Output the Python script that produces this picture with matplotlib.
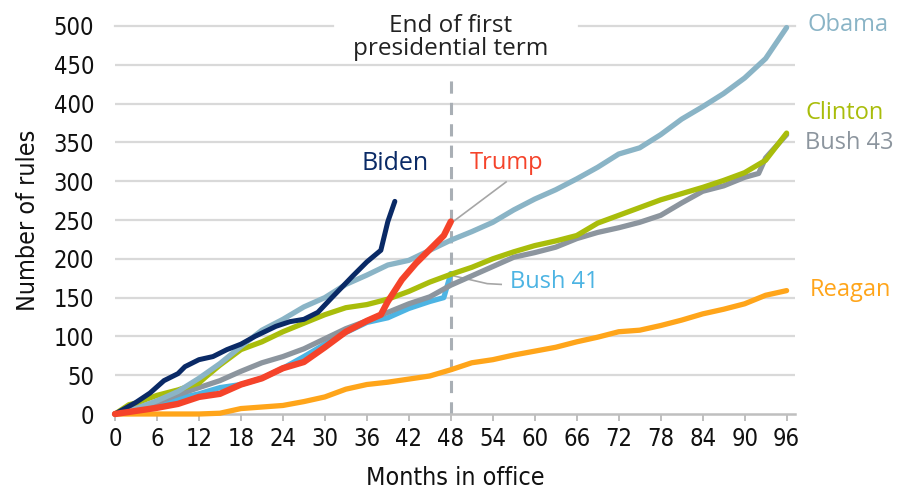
import matplotlib
matplotlib.use("Agg")
import matplotlib.pyplot as plt

# Cumulative rules by months in office
obama_m = [0, 3, 6, 9, 12, 15, 18, 21, 24, 27, 30, 33, 36, 39, 42, 45, 48, 51, 54, 57, 60,
           63, 66, 69, 72, 75, 78, 81, 84, 87, 90, 93, 96]
obama_v = [0, 7, 17, 29, 46, 65, 87, 108, 122, 138, 150, 167, 179, 192, 198, 211, 224, 235,
           247, 263, 277, 289, 303, 318, 335, 343, 360, 380, 396, 413, 433, 458, 498]

clinton_m = [0, 2, 3, 6, 9, 12, 13, 15, 18, 21, 24, 27, 30, 33, 36, 39, 42, 45, 48, 51, 54,
             57, 60, 63, 66, 69, 72, 75, 78, 81, 84, 87, 90, 93, 96]
clinton_v = [0, 12, 14, 24, 31, 40, 48, 63, 83, 93, 106, 117, 128, 137, 141, 148, 158, 170,
             180, 189, 200, 209, 217, 223, 230, 246, 256, 266, 276, 284, 292, 301, 311, 327, 362]

bush43_m = [0, 3, 6, 9, 12, 15, 18, 21, 24, 27, 30, 33, 36, 39, 42, 45, 48, 51, 54, 57, 60,
            63, 66, 69, 72, 75, 78, 81, 84, 87, 90, 92, 93, 94, 96]
bush43_v = [0, 8, 15, 25, 34, 43, 55, 66, 74, 84, 97, 110, 120, 131, 142, 151, 166, 178, 190,
            202, 208, 215, 226, 234, 240, 247, 256, 272, 287, 294, 305, 310, 330, 340, 360]

bush41_m = [0, 3, 6, 9, 12, 15, 18, 21, 24, 27, 30, 33, 36, 39, 42, 45, 47, 48]
bush41_v = [0, 6, 12, 20, 26, 34, 38, 46, 59, 74, 90, 105, 118, 124, 136, 145, 150, 181]

trump_m = [0, 3, 6, 9, 12, 15, 18, 21, 24, 27, 30, 33, 36, 38, 39, 41, 43, 45, 47, 48]
trump_v = [0, 4, 8, 13, 22, 26, 38, 46, 59, 67, 86, 106, 120, 128, 145, 173, 194, 212, 230, 248]

biden_m = [0, 3, 5, 7, 9, 10, 12, 14, 16, 18, 20, 23, 25, 27, 29, 31, 34, 36, 38, 39, 40]
biden_v = [0, 15, 27, 43, 52, 61, 70, 74, 83, 90, 100, 113, 119, 122, 131, 150, 178, 196,
           211, 248, 274]

reagan_m = [0, 3, 6, 9, 12, 15, 18, 21, 24, 27, 30, 33, 36, 39, 42, 45, 48, 51, 54, 57, 60,
            63, 66, 69, 72, 75, 78, 81, 84, 87, 90, 93, 96]
reagan_v = [0, 0, 0, 0, 0, 1, 7, 9, 11, 16, 22, 32, 38, 41, 45, 49, 57, 66, 70, 76, 81, 86,
            93, 99, 106, 108, 114, 121, 129, 135, 142, 153, 159]

x_ticks = list(range(0, 97, 6))
y_ticks = list(range(0, 501, 50))

TEXT_FONT = ["Open Sans", "DejaVu Sans"]
XMAX = 97.2

fig = plt.figure(figsize=(9.1, 4.93), dpi=100)
ax = fig.add_axes([115 / 910, 79 / 493, 680 / 910, 388 / 493])
ax.set_xlim(0, XMAX)
ax.set_ylim(0, 500)

for y in y_ticks[1:-1]:
    ax.axhline(y, color="#d9d9d9", lw=1.6, zorder=0)
# top gridline is broken around the annotation text
ax.axhline(500, xmin=0, xmax=31.1 / XMAX, color="#d9d9d9", lw=1.6, zorder=0, clip_on=False)
ax.axhline(500, xmin=66.3 / XMAX, xmax=1, color="#d9d9d9", lw=1.6, zorder=0, clip_on=False)

ax.axvline(48, ymin=0, ymax=430 / 500, color="#a9afb5", lw=2.2,
           dashes=(4, 3), zorder=1)

series = [
    (reagan_m, reagan_v, "#ffa51a", 3.8),
    (bush41_m, bush41_v, "#4db4e3", 3.8),
    (bush43_m, bush43_v, "#8c959e", 3.8),
    (clinton_m, clinton_v, "#a9bd0b", 3.8),
    (obama_m, obama_v, "#8ab4c6", 3.8),
    (biden_m, biden_v, "#0a2a66", 3.6),
    (trump_m, trump_v, "#f5432a", 4.6),
]
for m, v, c, lw in series:
    ax.plot(m, v, color=c, lw=lw, solid_capstyle="round", solid_joinstyle="round",
            clip_on=False, zorder=3)

# leader lines
ax.plot([48.2, 55.9], [247, 299], color="#a6a6a6", lw=1.2, zorder=2)
ax.plot([48.4, 53.2, 55.2], [178, 168, 167], color="#a6a6a6", lw=1.2, zorder=2)

lab = dict(fontsize=17, family=TEXT_FONT, va="center")
ax.text(99, 501, "Obama", color="#8ab4c6", ha="left", clip_on=False, **lab)
ax.text(98.7, 388, "Clinton", color="#a9bd0b", ha="left", clip_on=False, **lab)
ax.text(98.6, 349, "Bush 43", color="#8c959e", ha="left", clip_on=False, **lab)
ax.text(99.3, 160, "Reagan", color="#ffa51a", ha="left", clip_on=False, **lab)
ax.text(56.4, 170, "Bush 41", color="#4db4e3", ha="left", **lab)
ax.text(50.7, 323, "Trump", color="#f5432a", ha="left", **lab)
ax.text(35.3, 323, "Biden", color="#0a2a66", ha="left", fontweight="medium",
        fontsize=18, family=TEXT_FONT, va="center")

ax.text(48, 485, "End of first\npresidential term", ha="center", va="center",
        fontsize=17.5, family=TEXT_FONT, color="#222222", linespacing=0.95, zorder=4)

for s in ["top", "right", "left"]:
    ax.spines[s].set_visible(False)
ax.spines["bottom"].set_color("#bfbfbf")
ax.spines["bottom"].set_linewidth(1.8)
ax.spines["bottom"].set_zorder(2)

ax.set_xticks(x_ticks)
ax.set_yticks(y_ticks)
ax.tick_params(axis="x", length=5, width=1.4, color="#bfbfbf", pad=4)
ax.tick_params(axis="y", length=0, pad=15)
for t in ax.get_xticklabels() + ax.get_yticklabels():
    t.set_fontfamily("DejaVu Sans")
    t.set_fontstretch("condensed")
    t.set_fontsize(17)
    t.set_color("#111111")

ax.set_xlabel("Months in office", fontsize=18, fontstretch="condensed", color="#111111",
              labelpad=11)
ax.set_ylabel("Number of rules", fontsize=18, fontstretch="condensed", color="#111111",
              labelpad=10)

fig.savefig("out.png", dpi=100)
